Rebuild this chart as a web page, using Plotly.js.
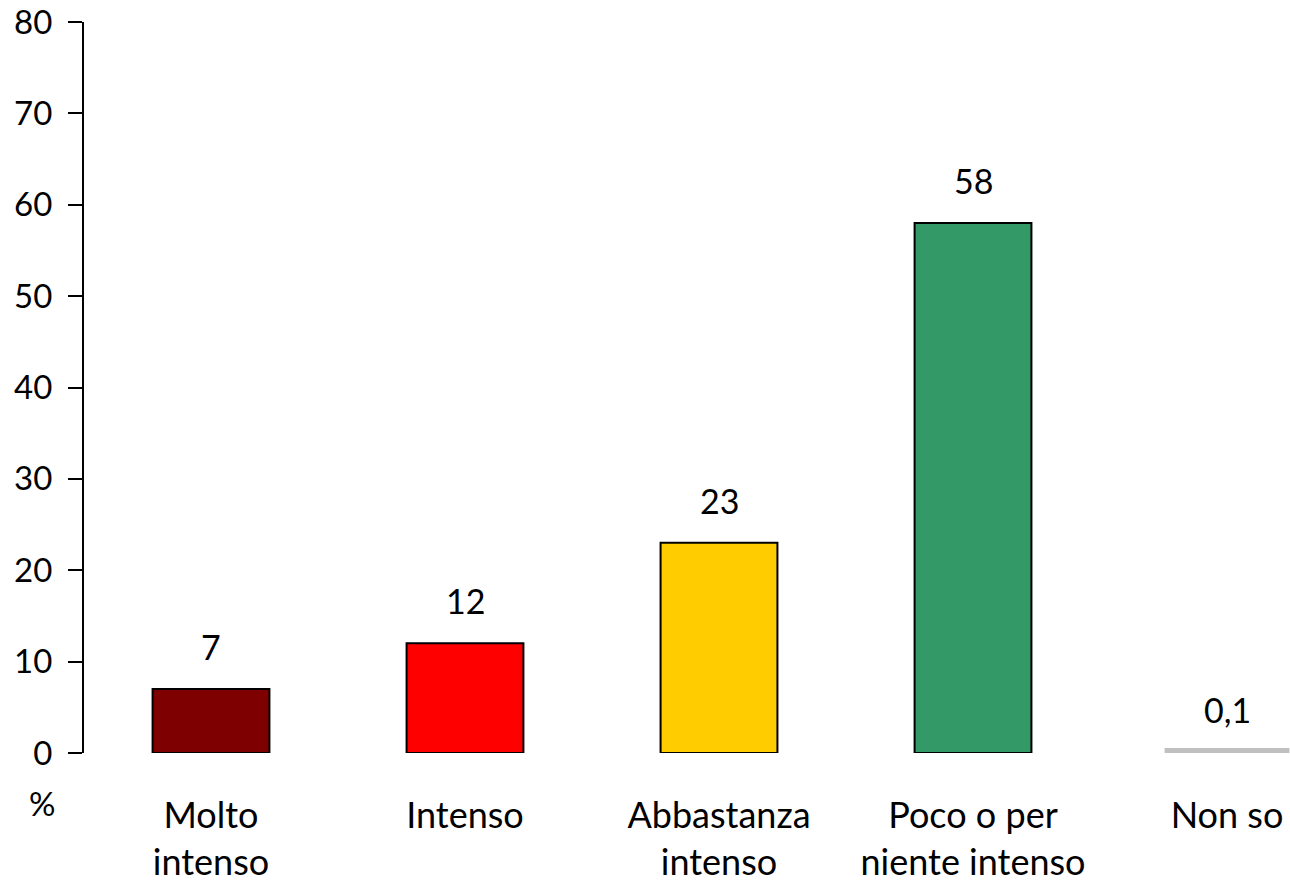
<!DOCTYPE html>
<html>
<head>
<meta charset="utf-8">
<script src="https://cdn.plot.ly/plotly-3.0.1.min.js"></script>
<style>html,body{margin:0;padding:0;background:#fff;}#chart{width:1290px;height:886px;}</style>
</head>
<body>
<div id="chart"></div>
<script>
const categories = ["Molto<br>intenso", "Intenso", "Abbastanza<br>intenso", "Poco o per<br>niente intenso", "Non so"];
const values = [7, 12, 23, 58, 0.1];
const valueLabels = ["7", "12", "23", "58", "0,1"];
const barColors = ["#7f0000", "#ff0000", "#ffcc00", "#339966", "#c0c0c0"];
const barLineColors = ["#000000", "#000000", "#000000", "#000000", "#c0c0c0"];
const yTicks = [0, 10, 20, 30, 40, 50, 60, 70, 80];

const FONT = "Lato, 'Open Sans', sans-serif";

const trace = {
  type: "bar",
  x: categories,
  y: values,
  width: 0.46,
  marker: {color: barColors, line: {color: barLineColors, width: [2, 2, 2, 2, 8]}},
  cliponaxis: false,
  hoverinfo: "skip"
};

const annotations = categories.map((c, i) => ({
  x: c, y: values[i], xref: "x", yref: "y",
  text: valueLabels[i], showarrow: false,
  yanchor: "bottom", yshift: 20,
  font: {family: FONT, size: 34, color: "#000"}
}));
annotations.push({
  xref: "paper", yref: "paper", x: -0.035, y: -0.068,
  xanchor: "center", yanchor: "middle",
  text: "%", showarrow: false,
  font: {family: FONT, size: 33, color: "#000"}
});

const layout = {
  width: 1290, height: 886,
  margin: {l: 84, r: 0, t: 22, b: 133},
  paper_bgcolor: "#fff", plot_bgcolor: "#fff",
  showlegend: false,
  font: {family: FONT, size: 33, color: "#000"},
  xaxis: {
    type: "category",
    range: [-0.5, 4.248],
    showline: false, showgrid: false, zeroline: false,
    ticks: "", ticklabelstandoff: 38,
    tickfont: {family: FONT, size: 36, color: "#000"}
  },
  yaxis: {
    range: [0, 80],
    tickvals: yTicks,
    ticktext: yTicks.map(String),
    showline: true, linecolor: "#000", linewidth: 2,
    ticks: "outside", ticklen: 14, tickwidth: 2, tickcolor: "#000",
    ticklabelstandoff: 9,
    showgrid: false, zeroline: false,
    tickfont: {family: FONT, size: 33, color: "#000"}
  },
  annotations: annotations
};

Plotly.newPlot("chart", [trace], layout, {displayModeBar: false, staticPlot: true});
</script>
</body>
</html>
